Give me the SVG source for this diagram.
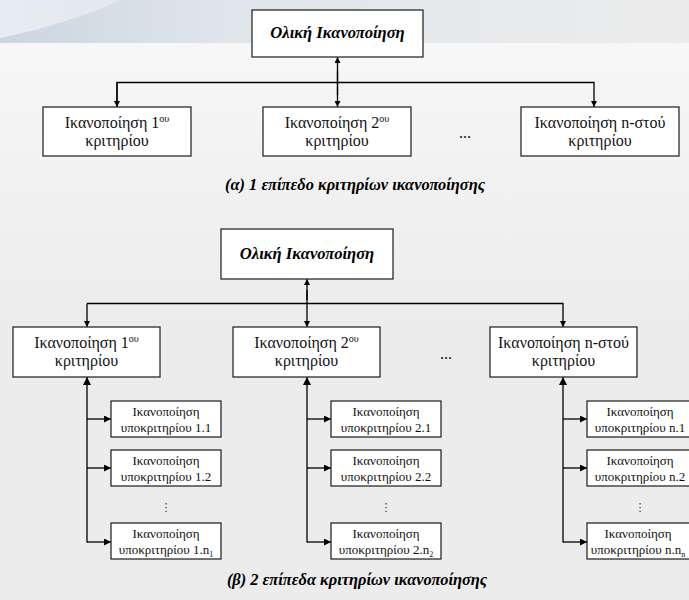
<svg xmlns="http://www.w3.org/2000/svg" width="689" height="600" viewBox="0 0 689 600">
  <defs>
    <linearGradient id="bgBody" x1="0" y1="43" x2="0" y2="320" gradientUnits="userSpaceOnUse">
      <stop offset="0" stop-color="#f7f7f7"/>
      <stop offset="1" stop-color="#ececec"/>
    </linearGradient>
    <linearGradient id="bgBand" x1="0" y1="0" x2="689" y2="0" gradientUnits="userSpaceOnUse">
      <stop offset="0" stop-color="#cbd6e1"/>
      <stop offset="0.35" stop-color="#e1e6eb"/>
      <stop offset="1" stop-color="#ececec"/>
    </linearGradient>
    <linearGradient id="swoosh" x1="0" y1="0" x2="300" y2="0" gradientUnits="userSpaceOnUse">
      <stop offset="0" stop-color="#ffffff" stop-opacity="0.55"/>
      <stop offset="1" stop-color="#ffffff" stop-opacity="0"/>
    </linearGradient>
    <marker id="ah" viewBox="0 0 10 10" refX="10" refY="5" markerWidth="6" markerHeight="6" markerUnits="userSpaceOnUse" orient="auto">
      <path d="M0,0 L10,5 L0,10 z" fill="#000"/>
    </marker>
    <marker id="ahBig" viewBox="0 0 10 10" refX="10" refY="5" markerWidth="9" markerHeight="8" markerUnits="userSpaceOnUse" orient="auto">
      <path d="M0,0 L10,5 L0,10 z" fill="#000"/>
    </marker>
    <marker id="ahSub" viewBox="0 0 10 10" refX="10" refY="5" markerWidth="8" markerHeight="7" markerUnits="userSpaceOnUse" orient="auto">
      <path d="M0,0 L10,5 L0,10 z" fill="#000"/>
    </marker>
  </defs>
  <style>
    .box { fill: #ffffff; stroke: #2b2b2b; stroke-width: 1.3; }
    .link { fill: none; stroke: #000; stroke-width: 1.3; }
    .t { font-family: "Liberation Serif", "Times New Roman", serif; font-size: 16px; fill: #111; text-anchor: middle; }
    .ts { font-family: "Liberation Serif", "Times New Roman", serif; font-size: 13px; fill: #111; text-anchor: middle; }
    .head { font-family: "Liberation Serif", "Times New Roman", serif; font-size: 16.6px; font-style: italic; font-weight: bold; fill: #000; text-anchor: middle; }
    .cap { font-family: "Liberation Serif", "Times New Roman", serif; font-size: 16.4px; font-style: italic; font-weight: bold; fill: #000; text-anchor: middle; }
    .dots { font-family: "DejaVu Sans", sans-serif; font-size: 11px; fill: #333; text-anchor: middle; }
  </style>

  <!-- background -->
  <rect x="0" y="0" width="689" height="600" fill="#ececec"/>
  <rect x="0" y="43" width="689" height="557" fill="url(#bgBody)"/>
  <rect x="0" y="0" width="689" height="43" fill="url(#bgBand)"/>
  <path d="M0,0 L120,0 C90,15 40,30 0,38 z" fill="url(#swoosh)"/>

  <!-- connectors -->
  <g id="connectors">
    <!-- level (a) -->
    <line class="link" x1="337.5" y1="95" x2="337.5" y2="57" marker-end="url(#ah)"/>
    <line class="link" x1="337.5" y1="70" x2="337.5" y2="107" marker-end="url(#ah)"/>
    <polyline class="link" points="117,107 117,82.5 594,82.5 594,107" marker-end="url(#ah)"/>
    <line class="link" x1="117" y1="82.5" x2="117" y2="107" marker-end="url(#ah)"/>

    <!-- level (b) top -->
    <line class="link" x1="307" y1="300" x2="307" y2="279" marker-end="url(#ah)"/>
    <line class="link" x1="307" y1="290" x2="307" y2="327" marker-end="url(#ah)"/>
    <polyline class="link" points="87,303.5 563,303.5 563,327" marker-end="url(#ah)"/>
    <line class="link" x1="87" y1="303.5" x2="87" y2="327" marker-end="url(#ah)"/>

    <!-- level (b) column 1 -->
    <line class="link" x1="87" y1="542.5" x2="87" y2="377" marker-end="url(#ahBig)"/>
    <line class="link" x1="87" y1="419" x2="111" y2="419" marker-end="url(#ahSub)"/>
    <line class="link" x1="87" y1="468" x2="111" y2="468" marker-end="url(#ahSub)"/>
    <line class="link" x1="87" y1="542" x2="111" y2="542" marker-end="url(#ahSub)"/>

    <!-- level (b) column 2 -->
    <line class="link" x1="307" y1="542.5" x2="307" y2="377" marker-end="url(#ahBig)"/>
    <line class="link" x1="307" y1="419" x2="331" y2="419" marker-end="url(#ahSub)"/>
    <line class="link" x1="307" y1="468" x2="331" y2="468" marker-end="url(#ahSub)"/>
    <line class="link" x1="307" y1="542" x2="331" y2="542" marker-end="url(#ahSub)"/>

    <!-- level (b) column n -->
    <line class="link" x1="563" y1="542.5" x2="563" y2="377" marker-end="url(#ahBig)"/>
    <line class="link" x1="563" y1="419" x2="587" y2="419" marker-end="url(#ahSub)"/>
    <line class="link" x1="563" y1="468" x2="587" y2="468" marker-end="url(#ahSub)"/>
    <line class="link" x1="563" y1="542" x2="587" y2="542" marker-end="url(#ahSub)"/>
  </g>

  <!-- (a) one level of criteria -->
  <g id="a-total">
    <rect class="box" x="252" y="10" width="171" height="47"/>
    <text class="head" x="337.5" y="38">Ολική Ικανοποίηση</text>
  </g>
  <g id="a-crit1">
    <rect class="box" x="43" y="107" width="148" height="49"/>
    <text class="t" x="117" y="128">Ικανοποίηση 1<tspan font-size="10" dy="-6">ου</tspan></text>
    <text class="t" x="117" y="146">κριτηρίου</text>
  </g>
  <g id="a-crit2">
    <rect class="box" x="263" y="107" width="148" height="49"/>
    <text class="t" x="337" y="128">Ικανοποίηση 2<tspan font-size="10" dy="-6">ου</tspan></text>
    <text class="t" x="337" y="146">κριτηρίου</text>
  </g>
  <text class="t" x="465" y="138" font-size="12">...</text>
  <g id="a-critn">
    <rect class="box" x="521" y="107" width="158" height="49"/>
    <text class="t" x="600" y="128">Ικανοποίηση n-στού</text>
    <text class="t" x="600" y="146">κριτηρίου</text>
  </g>
  <text class="cap" x="355" y="190">(α) 1 επίπεδο κριτηρίων ικανοποίησης</text>

  <!-- (b) two levels of criteria -->
  <g id="b-total">
    <rect class="box" x="221" y="229" width="172" height="50"/>
    <text class="head" x="307" y="259">Ολική Ικανοποίηση</text>
  </g>
  <g id="b-crit1">
    <rect class="box" x="13" y="327" width="147" height="50"/>
    <text class="t" x="86.5" y="348">Ικανοποίηση 1<tspan font-size="10" dy="-6">ου</tspan></text>
    <text class="t" x="86.5" y="366">κριτηρίου</text>
  </g>
  <g id="b-crit2">
    <rect class="box" x="233" y="327" width="147" height="50"/>
    <text class="t" x="306.5" y="348">Ικανοποίηση 2<tspan font-size="10" dy="-6">ου</tspan></text>
    <text class="t" x="306.5" y="366">κριτηρίου</text>
  </g>
  <text class="t" x="446" y="359" font-size="12">...</text>
  <g id="b-critn">
    <rect class="box" x="490" y="327" width="147" height="50"/>
    <text class="t" x="563.5" y="348">Ικανοποίηση n-στού</text>
    <text class="t" x="563.5" y="366">κριτηρίου</text>
  </g>

  <!-- sub-criteria of criterion 1 -->
  <g id="b-sub-1-1">
    <rect class="box" x="111" y="401" width="110" height="36"/>
    <text class="ts" x="166" y="416">Ικανοποίηση</text>
    <text class="ts" x="166" y="432">υποκριτηρίου 1.1</text>
  </g>
  <g id="b-sub-1-2">
    <rect class="box" x="111" y="450" width="110" height="36"/>
    <text class="ts" x="166" y="465">Ικανοποίηση</text>
    <text class="ts" x="166" y="481">υποκριτηρίου 1.2</text>
  </g>
  <text class="dots" x="166" y="511">⋮</text>
  <g id="b-sub-1-n">
    <rect class="box" x="111" y="523" width="110" height="36"/>
    <text class="ts" x="166" y="538">Ικανοποίηση</text>
    <text class="ts" x="166" y="554">υποκριτηρίου 1.n<tspan font-size="8" dy="3">1</tspan></text>
  </g>

  <!-- sub-criteria of criterion 2 -->
  <g id="b-sub-2-1">
    <rect class="box" x="331" y="401" width="110" height="36"/>
    <text class="ts" x="386" y="416">Ικανοποίηση</text>
    <text class="ts" x="386" y="432">υποκριτηρίου 2.1</text>
  </g>
  <g id="b-sub-2-2">
    <rect class="box" x="331" y="450" width="110" height="36"/>
    <text class="ts" x="386" y="465">Ικανοποίηση</text>
    <text class="ts" x="386" y="481">υποκριτηρίου 2.2</text>
  </g>
  <text class="dots" x="386" y="511">⋮</text>
  <g id="b-sub-2-n">
    <rect class="box" x="331" y="523" width="110" height="36"/>
    <text class="ts" x="386" y="538">Ικανοποίηση</text>
    <text class="ts" x="386" y="554">υποκριτηρίου 2.n<tspan font-size="8" dy="3">2</tspan></text>
  </g>

  <!-- sub-criteria of criterion n (run past the right edge) -->
  <g id="b-sub-n-1">
    <rect class="box" x="587" y="401" width="110" height="36"/>
    <text class="ts" x="640" y="416">Ικανοποίηση</text>
    <text class="ts" x="640" y="432">υποκριτηρίου n.1</text>
  </g>
  <g id="b-sub-n-2">
    <rect class="box" x="587" y="450" width="110" height="36"/>
    <text class="ts" x="640" y="465">Ικανοποίηση</text>
    <text class="ts" x="640" y="481">υποκριτηρίου n.2</text>
  </g>
  <text class="dots" x="640" y="511">⋮</text>
  <g id="b-sub-n-n">
    <rect class="box" x="587" y="523" width="110" height="36"/>
    <text class="ts" x="638" y="538">Ικανοποίηση</text>
    <text class="ts" x="638" y="554">υποκριτηρίου n.n<tspan font-size="8" dy="3">n</tspan></text>
  </g>

  <text class="cap" x="357" y="585">(β) 2 επίπεδα κριτηρίων ικανοποίησης</text>
</svg>
